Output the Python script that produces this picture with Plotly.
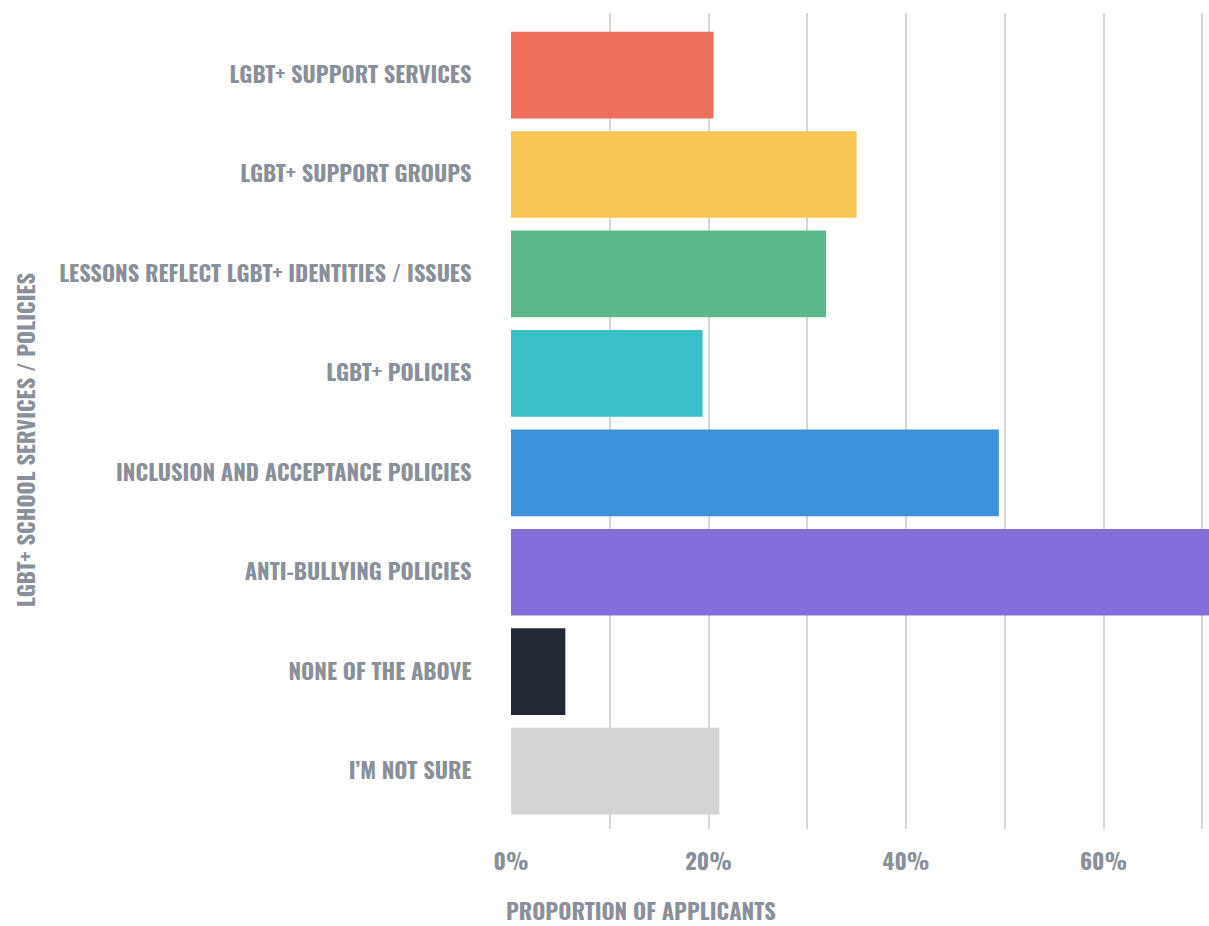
import plotly.graph_objects as go

# Survey responses: which LGBT+ services / policies the applicant's school has
categories = [
    "LGBT+ SUPPORT SERVICES",
    "LGBT+ SUPPORT GROUPS",
    "LESSONS REFLECT LGBT+ IDENTITIES / ISSUES",
    "LGBT+ POLICIES",
    "INCLUSION AND ACCEPTANCE POLICIES",
    "ANTI-BULLYING POLICIES",
    "NONE OF THE ABOVE",
    "I’M NOT SURE",
]
proportions = [20.5, 35.0, 31.9, 19.4, 49.4, 71.0, 5.5, 21.1]
bar_colors = ["#EE6F5B", "#F9C552", "#5DB98B", "#3CC0C7",
              "#3D92DA", "#836ED8", "#222834", "#D3D4D6"]

grid_values = [0, 10, 20, 30, 40, 50, 60, 70]
grid_labels = ["0%", "", "20%", "", "40%", "", "60%", ""]

FONT = "Oswald, 'Liberation Sans Narrow', 'DejaVu Sans Condensed', 'Roboto', sans-serif"
TEXT = "#8A9099"
SIZE = 22.5


def label_font():
    return dict(family=FONT, color=TEXT, size=SIZE, weight="bold")


fig = go.Figure(
    go.Bar(
        x=proportions,
        y=categories,
        orientation="h",
        marker=dict(color=bar_colors, line=dict(width=0)),
        hovertemplate="%{y}: %{x}%<extra></extra>",
    )
)

fig.update_layout(
    width=1209,
    height=926,
    margin=dict(l=511, r=0, t=13, b=97),
    paper_bgcolor="white",
    plot_bgcolor="white",
    bargap=0.128,
    showlegend=False,
    font=label_font(),
)

fig.update_xaxes(
    range=[0, 70.68],
    tickvals=grid_values,
    ticktext=grid_labels,
    showgrid=True,
    gridcolor="#D6D6D6",
    gridwidth=2,
    zeroline=False,
    showline=False,
    ticks="outside",
    ticklen=13,
    tickcolor="rgba(0,0,0,0)",
    tickfont=label_font(),
    fixedrange=True,
)

fig.update_yaxes(
    type="category",
    categoryorder="array",
    categoryarray=categories,
    range=[7.582, -0.624],
    showgrid=False,
    zeroline=False,
    showline=False,
    ticks="outside",
    ticklen=34,
    tickcolor="rgba(0,0,0,0)",
    tickfont=label_font(),
    fixedrange=True,
)

fig.add_annotation(
    text="PROPORTION OF APPLICANTS",
    xref="paper", yref="paper",
    x=(641 - 511) / (1209 - 511), y=-(910 - 829) / (829 - 13),
    xanchor="center", yanchor="middle",
    showarrow=False,
    font=label_font(),
)

fig.add_annotation(
    text="LGBT+ SCHOOL SERVICES / POLICIES",
    xref="paper", yref="paper",
    x=-(511 - 25) / (1209 - 511), y=(829 - 440) / (829 - 13),
    xanchor="center", yanchor="middle",
    textangle=-90,
    showarrow=False,
    font=label_font(),
)

fig.write_html("out.html", config={"displayModeBar": False})
